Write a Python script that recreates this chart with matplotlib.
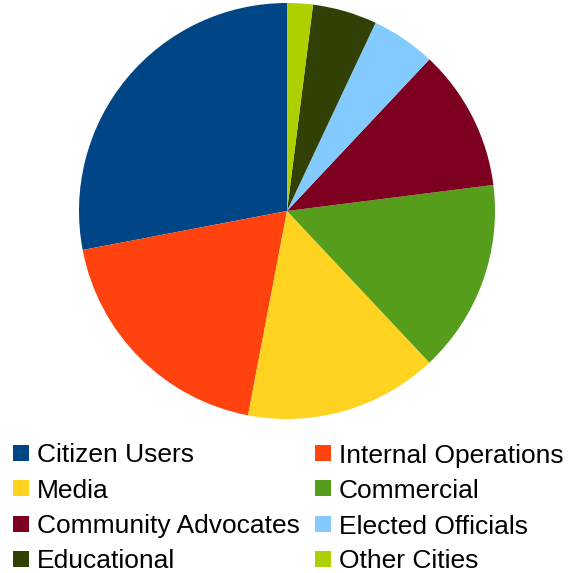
import matplotlib
matplotlib.use("Agg")
import matplotlib.pyplot as plt
from matplotlib.patches import Rectangle

labels = ["Citizen Users", "Internal Operations", "Media", "Commercial",
          "Community Advocates", "Elected Officials", "Educational", "Other Cities"]
shares = [28, 19, 15, 15, 11, 5, 5, 2]
colors = ["#004586", "#ff420e", "#ffd320", "#579d1c",
          "#7e0021", "#83caff", "#314004", "#aecf00"]

W, H = 568, 573
fig = plt.figure(figsize=(W / 100, H / 100), dpi=100)
plt.rcParams['font.family'] = ['Liberation Sans', 'DejaVu Sans']

# pie centre and radius in pixels
cx, cy, r = 287, 211, 208
ax = fig.add_axes([(cx - r) / W, (H - cy - r) / H, 2 * r / W, 2 * r / H])
ax.pie(shares, colors=colors, startangle=90, counterclock=True,
       wedgeprops=dict(linewidth=0))
ax.set_xlim(-1, 1)
ax.set_ylim(-1, 1)
ax.set_aspect("equal")
ax.axis("off")

# legend, two columns (pixel positions)
col_x = [13, 315]
row_y = [453, 488, 524, 559]
sq = 16
for i, (lab, c) in enumerate(zip(labels, colors)):
    x = col_x[i % 2]
    y = row_y[i // 2]
    fig.add_artist(Rectangle((x / W, (H - y - sq / 2) / H), sq / W, sq / H,
                             transform=fig.transFigure, color=c, lw=0))
    fig.text((x + 24) / W, (H - y) / H, lab, fontsize=19,
             va="center_baseline", ha="left", color="black")

fig.savefig("out.png", dpi=100)
